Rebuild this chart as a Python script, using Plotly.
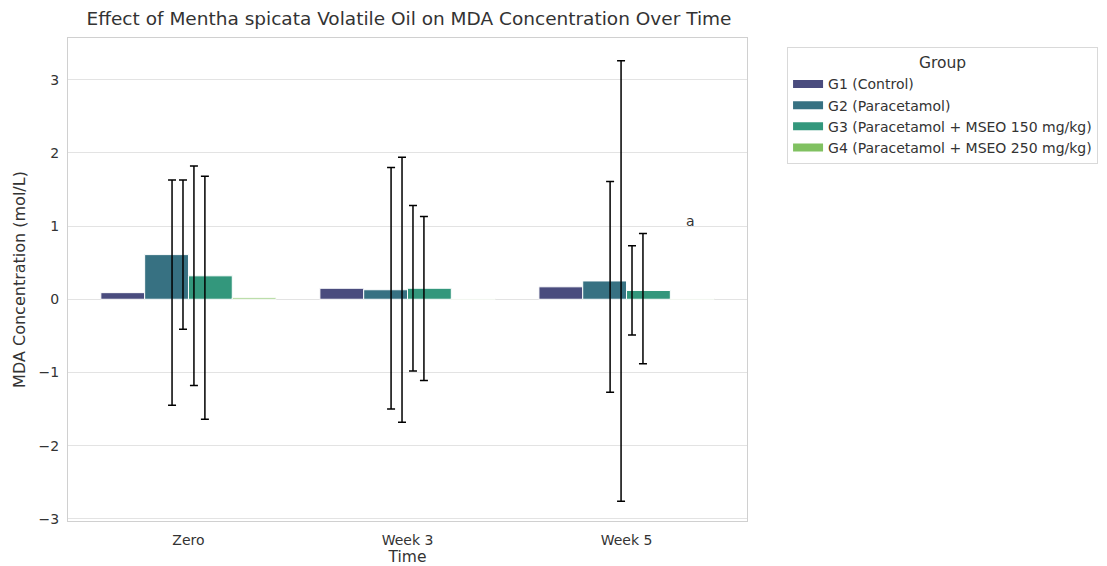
import plotly.graph_objects as go

categories = ["Zero", "Week 3", "Week 5"]
groups = [
    "G1 (Control)",
    "G2 (Paracetamol)",
    "G3 (Paracetamol + MSEO 150 mg/kg)",
    "G4 (Paracetamol + MSEO 250 mg/kg)",
]
g1_mean = [0.09, 0.15, 0.17]
g2_mean = [0.61, 0.13, 0.25]
g3_mean = [0.32, 0.15, 0.12]
g4_mean = [0.02, 0.01, 0.01]
g1_sd = [1.54, 1.65, 1.44]
g2_sd = [1.02, 1.81, 3.01]
g3_sd = [1.50, 1.13, 0.61]
g4_sd = [1.66, 1.12, 0.89]
annotation_text = "a"

means = [g1_mean, g2_mean, g3_mean, g4_mean]
sds = [g1_sd, g2_sd, g3_sd, g4_sd]
colors = ["#4a4c7e", "#377182", "#33977c", "#80c161"]
err_offsets = [-0.075, -0.025, 0.025, 0.075]

FONT = "DejaVu Sans"
TXT = "#333333"

x_idx = list(range(len(categories)))

fig = go.Figure()
for g, m, c in zip(groups, means, colors):
    fig.add_trace(go.Bar(
        x=x_idx, y=m, name=g, legendgroup=g, showlegend=False,
        marker=dict(color=c, line=dict(color="white", width=1)),
    ))

# legend entries drawn as wide patches (like the reference)
for g, c in zip(groups, colors):
    fig.add_trace(go.Scatter(
        x=[None], y=[None], mode="lines", name=g, legendgroup=g,
        line=dict(color=c, width=8), hoverinfo="skip",
    ))

for m, s, off in zip(means, sds, err_offsets):
    fig.add_trace(go.Scatter(
        x=[i + off for i in x_idx], y=m, mode="markers",
        marker=dict(size=1, color="rgba(0,0,0,0)"),
        error_y=dict(type="data", array=s, visible=True, color="black",
                     thickness=1.5, width=4),
        showlegend=False, hoverinfo="skip",
    ))

fig.add_annotation(x=2.29, y=1.07, text=annotation_text, showarrow=False,
                   font=dict(family=FONT, size=14, color=TXT))

fig.update_layout(
    width=1107, height=566,
    margin=dict(l=60, r=368, t=30, b=53, autoexpand=False),
    paper_bgcolor="white", plot_bgcolor="white",
    barmode="group", bargap=0.2, bargroupgap=0,
    font=dict(family=FONT, size=14, color=TXT),
    title=dict(text="Effect of Mentha spicata Volatile Oil on MDA Concentration Over Time",
               x=401 / 1107, xanchor="center", y=1 - 11 / 566, yanchor="middle",
               font=dict(family=FONT, size=18.5, color=TXT)),
    legend=dict(
        x=1.059, y=0.981, xanchor="left", yanchor="top",
        bordercolor="#d9d9d9", borderwidth=1, bgcolor="white",
        title=dict(text="Group", side="top center", font=dict(family=FONT, size=15.5, color=TXT)),
        font=dict(family=FONT, size=14, color=TXT),
        itemwidth=30, tracegroupgap=0,
    ),
    xaxis=dict(
        range=[-0.55, 2.55], tickvals=x_idx, ticktext=categories,
        showgrid=False, zeroline=False, showline=True, mirror=True,
        linecolor="#d0d0d0", linewidth=1, ticks="", ticklabelstandoff=6,
        title=dict(text="Time", standoff=4, font=dict(family=FONT, size=15.5, color=TXT)),
        tickfont=dict(family=FONT, size=14, color=TXT),
    ),
    yaxis=dict(
        range=[-3.03, 3.57], dtick=1,
        showgrid=True, gridcolor="#e3e3e3", gridwidth=1,
        zeroline=True, zerolinecolor="#e3e3e3", zerolinewidth=1,
        showline=True, mirror=True, linecolor="#d0d0d0", linewidth=1, ticks="",
        ticklabelstandoff=5,
        title=dict(text="MDA Concentration (mol/L)", standoff=8,
                   font=dict(family=FONT, size=16, color=TXT)),
        tickfont=dict(family=FONT, size=14, color=TXT),
    ),
)

fig.write_html("out.html")
